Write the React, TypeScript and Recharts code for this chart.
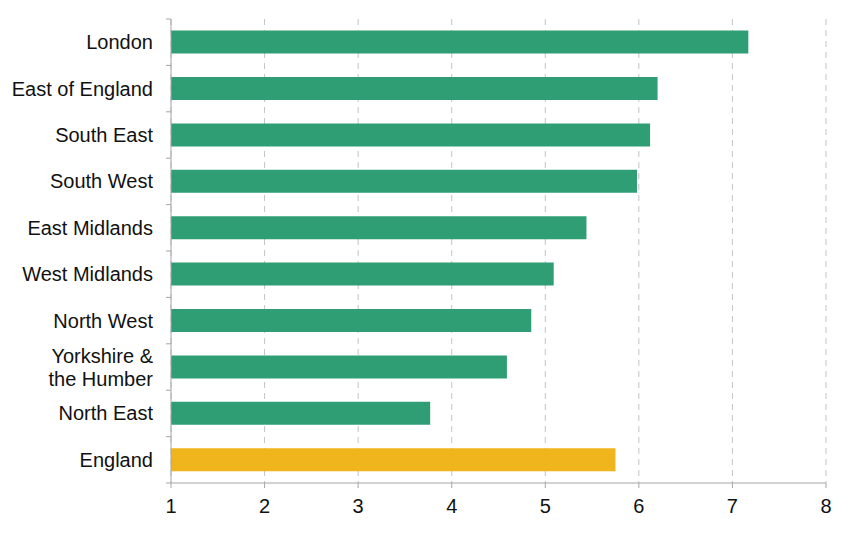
import React from "react";
import { BarChart, Bar, XAxis, YAxis, CartesianGrid, Cell } from "recharts";

const regions = [
  "London",
  "East of England",
  "South East",
  "South West",
  "East Midlands",
  "West Midlands",
  "North West",
  "Yorkshire & the Humber",
  "North East",
  "England",
];
const values = [7.17, 6.2, 6.12, 5.98, 5.44, 5.09, 4.85, 4.59, 3.77, 5.75];
const xTicks = [1, 2, 3, 4, 5, 6, 7, 8];

// labels that wrap onto two lines in the original
const wrapped: Record<string, string[]> = {
  "Yorkshire & the Humber": ["Yorkshire &", "the Humber"],
};

const GREEN = "#2f9e74";
const YELLOW = "#f0b41c";
const AXIS = "#a6a6a6";
const FONT = "'Liberation Sans', Arial, sans-serif";

const data = regions.map((r, i) => ({ region: r, value: values[i] }));

function RegionTick(props: any) {
  const { x, y, payload, index } = props;
  const half = payload?.offset ?? 23.2;
  const lines = wrapped[payload.value] ?? [payload.value];
  const lineH = 23;
  const startDy = -((lines.length - 1) * lineH) / 2;
  return (
    <g>
      <line x1={x - 5} x2={x} y1={y - half} y2={y - half} stroke={AXIS} />
      {index === regions.length - 1 && (
        <line x1={x - 5} x2={x} y1={y + half} y2={y + half} stroke={AXIS} />
      )}
      <text
        x={x - 18}
        y={y}
        textAnchor="end"
        fontSize={20}
        fontFamily={FONT}
        fill="#111"
      >
        {lines.map((l: string, i: number) => (
          <tspan key={i} x={x - 18} dy={i === 0 ? startDy + 7 : lineH}>
            {l}
          </tspan>
        ))}
      </text>
    </g>
  );
}

export default function App() {
  return (
    <div style={{ position: "absolute", left: 0, top: 0, background: "#fff" }}>
      <BarChart
        width={848}
        height={534}
        data={data}
        layout="vertical"
        margin={{ top: 19, right: 22, bottom: 0, left: 0 }}
        barCategoryGap="25%"
      >
        <CartesianGrid
          horizontal={false}
          stroke="#c4c4c4"
          strokeDasharray="6 5"
        />
        <XAxis
          type="number"
          domain={[1, 8]}
          ticks={xTicks}
          allowDataOverflow
          height={51}
          stroke={AXIS}
          tickSize={5}
          tickMargin={11}
          tick={{ fontSize: 20, fontFamily: FONT, fill: "#111" }}
        />
        <YAxis
          type="category"
          dataKey="region"
          width={171}
          stroke={AXIS}
          tickLine={false}
          tickSize={0}
          tickMargin={0}
          interval={0}
          tick={<RegionTick />}
        />
        <Bar dataKey="value" isAnimationActive={false}>
          {data.map((d, i) => (
            <Cell key={i} fill={d.region === "England" ? YELLOW : GREEN} />
          ))}
        </Bar>
      </BarChart>
    </div>
  );
}
